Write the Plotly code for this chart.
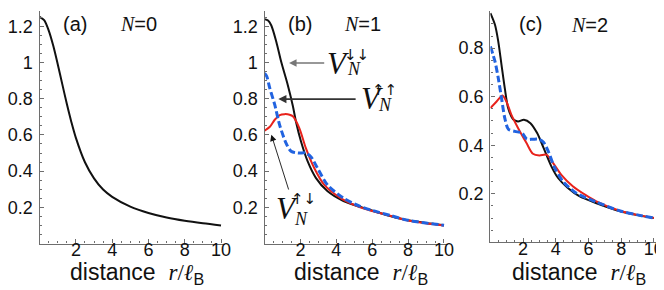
import plotly.graph_objects as go

# ---------------- data ----------------
r_a = [0, 0.25, 0.5, 0.75, 1, 1.25, 1.5, 1.75, 2, 2.5, 3, 3.5, 4, 5, 6, 7, 8, 9, 10]
v_a = [1.253, 1.234, 1.178, 1.094, 0.991, 0.881, 0.772, 0.672, 0.584, 0.449, 0.360, 0.298,
       0.258, 0.204, 0.169, 0.144, 0.126, 0.112, 0.100]

r_b_dd = [0, 0.2, 0.38, 0.66, 0.93, 1.3, 1.58, 1.76, 2.03, 2.4, 2.86, 3.5, 4.4, 5.9, 7, 8, 9, 10]
v_b_dd = [1.24, 1.232, 1.205, 1.114, 1.004, 0.875, 0.76, 0.67, 0.565, 0.455, 0.363, 0.29,
          0.235, 0.185, 0.152, 0.128, 0.113, 0.101]

r_b_uu = [0, 0.12, 0.29, 0.57, 0.84, 1.2, 1.48, 1.85, 2.3, 2.58, 2.95, 3.5, 4.4, 5.33, 6, 7, 8, 9, 10]
v_b_uu = [0.94, 0.925, 0.86, 0.767, 0.656, 0.555, 0.51, 0.50, 0.50, 0.48, 0.417, 0.325, 0.251,
          0.205, 0.183, 0.155, 0.128, 0.113, 0.101]

r_b_ud = [0, 0.3, 0.57, 0.85, 1.12, 1.4, 1.58, 1.94, 2.3, 2.77, 3.32, 4.24, 5.33, 6, 7, 8, 9, 10]
v_b_ud = [0.623, 0.645, 0.684, 0.71, 0.715, 0.712, 0.703, 0.638, 0.528, 0.417, 0.325, 0.251,
          0.2, 0.18, 0.153, 0.127, 0.112, 0.1]

r_c_dd = [0, 0.28, 0.48, 0.68, 0.88, 1.08, 1.39, 1.69, 2.05, 2.45, 2.86, 3.26, 3.73, 4.14,
          4.74, 5.44, 6.45, 8, 9, 10]
v_c_dd = [0.944, 0.896, 0.828, 0.731, 0.635, 0.555, 0.507, 0.498, 0.505, 0.491, 0.45, 0.388,
          0.313, 0.265, 0.224, 0.19, 0.162, 0.127, 0.112, 0.1]

r_c_uu = [0, 0.28, 0.48, 0.68, 0.88, 1.1, 1.5, 1.93, 2.23, 2.6, 3.0, 3.25, 3.54, 3.94, 4.44,
          5.24, 6.45, 8, 9, 10]
v_c_uu = [0.807, 0.745, 0.677, 0.594, 0.512, 0.466, 0.457, 0.45, 0.425, 0.425, 0.424, 0.412,
          0.375, 0.306, 0.251, 0.203, 0.167, 0.128, 0.113, 0.1]

r_c_ud = [0, 0.38, 0.74, 0.98, 1.28, 1.69, 2.2, 2.6, 3.0, 3.43, 3.83, 4.34, 5.04, 5.84, 6.45,
          8, 9, 10]
v_c_ud = [0.553, 0.58, 0.605, 0.58, 0.526, 0.471, 0.41, 0.365, 0.358, 0.361, 0.327, 0.278,
          0.231, 0.194, 0.17, 0.128, 0.113, 0.1]

x_ticks = [2, 4, 6, 8, 10]
x_ticktext = ["2", "4", "6", "8", "10"]
y_ticks_ab = [0.2, 0.4, 0.6, 0.8, 1.0, 1.2]
y_ticktext_ab = ["0.2", "0.4", "0.6", "0.8", "1", "1.2"]
y_ticks_c = [0.2, 0.4, 0.6, 0.8]
y_ticktext_c = ["0.2", "0.4", "0.6", "0.8"]

panel_labels = ["(a)", "(b)", "(c)"]
n_labels = ["0", "1", "2"]

# ---------------- styling ----------------
W, H = 664, 290
BLACK = "#111111"
RED = "#e8221b"
BLUE = "#2163e0"
SANS = "Liberation Sans, Arial, sans-serif"
SERIF = "Liberation Serif, Times New Roman, serif"


def px_x(p):
    return p / W


def px_y(p):
    return 1 - p / H


fig = go.Figure()

line_black = dict(color=BLACK, width=2, shape="spline", smoothing=0.8)
line_red = dict(color=RED, width=2, shape="spline", smoothing=0.8)
line_blue = dict(color=BLUE, width=3, dash="7px,3px", shape="spline", smoothing=0.8)

fig.add_trace(go.Scatter(x=r_a, y=v_a, mode="lines", line=line_black, xaxis="x", yaxis="y"))
fig.add_trace(go.Scatter(x=r_b_dd, y=v_b_dd, mode="lines", line=line_black, xaxis="x2", yaxis="y2"))
fig.add_trace(go.Scatter(x=r_b_ud, y=v_b_ud, mode="lines", line=line_red, xaxis="x2", yaxis="y2"))
fig.add_trace(go.Scatter(x=r_b_uu, y=v_b_uu, mode="lines", line=line_blue, xaxis="x2", yaxis="y2"))
fig.add_trace(go.Scatter(x=r_c_dd, y=v_c_dd, mode="lines", line=line_black, xaxis="x3", yaxis="y3"))
fig.add_trace(go.Scatter(x=r_c_ud, y=v_c_ud, mode="lines", line=line_red, xaxis="x3", yaxis="y3"))
fig.add_trace(go.Scatter(x=r_c_uu, y=v_c_uu, mode="lines", line=line_blue, xaxis="x3", yaxis="y3"))

# domains in pixels
panels = [
    dict(x0=30, x1=217.6, y0=235.5, y1=3, yr=[0, 1.285], yt=y_ticks_ab, ytt=y_ticktext_ab),
    dict(x0=258, x1=443.6, y0=235.5, y1=3, yr=[0, 1.285], yt=y_ticks_ab, ytt=y_ticktext_ab),
    dict(x0=487, x1=656, y0=234.3, y1=3, yr=[0, 0.953], yt=y_ticks_c, ytt=y_ticktext_c),
]

axis_color = "#6e6e6e"
layout = {}
for i, p in enumerate(panels):
    sfx = "" if i == 0 else str(i + 1)
    layout["xaxis" + sfx] = dict(
        domain=[px_x(p["x0"]), px_x(p["x1"])], range=[0, 10.2], anchor="y" + sfx,
        showline=True, linecolor=axis_color, linewidth=1.3, showgrid=False, zeroline=False,
        tickvals=x_ticks, ticktext=x_ticktext, ticks="inside", ticklen=4, tickcolor=axis_color,
        minor=dict(ticks="inside", ticklen=2, dtick=0.5, tickcolor=axis_color),
        tickfont=dict(family=SANS, size=18, color=BLACK), ticklabelstandoff=-10,
    )
    layout["yaxis" + sfx] = dict(
        domain=[px_y(p["y0"]), px_y(p["y1"])], range=p["yr"], anchor="x" + sfx,
        showline=True, linecolor=axis_color, linewidth=1.3, showgrid=False, zeroline=False,
        tickvals=p["yt"], ticktext=p["ytt"], ticks="inside", ticklen=4, tickcolor=axis_color,
        minor=dict(ticks="inside", ticklen=2, dtick=0.05, tickcolor=axis_color),
        tickfont=dict(family=SANS, size=18, color=BLACK), ticklabelstandoff=2,
    )

annotations = []
# panel labels and N labels
label_pos = [(66, 16), (294, 16), (528, 16)]
n_pos = [(130, 16), (357, 16), (587, 17)]
for i in range(3):
    annotations.append(dict(x=px_x(label_pos[i][0]), y=px_y(label_pos[i][1]), xref="paper", yref="paper",
                            xanchor="center", yanchor="middle",
                            text=panel_labels[i], showarrow=False,
                            font=dict(family=SANS, size=20, color=BLACK)))
    annotations.append(dict(x=px_x(n_pos[i][0]), y=px_y(n_pos[i][1]), xref="paper", yref="paper",
                            xanchor="center", yanchor="middle",
                            text="<span style='font-family:\"Liberation Serif\"'><i>N</i></span>=" + n_labels[i],
                            showarrow=False, font=dict(family=SANS, size=20, color=BLACK)))
    # x-axis title
    cx = (panels[i]["x0"] + panels[i]["x1"]) / 2 + 5
    annotations.append(dict(x=px_x(cx), y=px_y(265), xref="paper", yref="paper",
                            xanchor="center", yanchor="middle",
                            text="distance  <span style='font-family:\"Liberation Serif\"'><i>r</i>/<i>ℓ</i></span><sub>B</sub>",
                            showarrow=False, font=dict(family=SANS, size=23, color=BLACK)))

# arrows in panel (b), in data coordinates
arrows = [
    dict(x=1.37, y=0.997, ax=3.41, ay=0.997, color="#777777", w=1.5, s=1.0),
    dict(x=0.77, y=0.798, ax=5.16, ay=0.798, color="#333333", w=1.8, s=0.9),
    dict(x=0.38, y=0.601, ax=1.37, ay=0.29, color="#111111", w=0.9, s=1.4),
]
for a in arrows:
    annotations.append(dict(x=a["x"], y=a["y"], ax=a["ax"], ay=a["ay"], xref="x2", yref="y2",
                            axref="x2", ayref="y2", showarrow=True, arrowhead=2, arrowsize=a["s"],
                            arrowwidth=a["w"], arrowcolor=a["color"], text=""))

# V labels: (V pos, superscript text, sup pos, N pos)
v_labels = [
    ((4.12, 0.997), "↓↓", (5.11, 1.04), (5.0, 0.962)),
    ((5.99, 0.799), "↑↑", (6.70, 0.848), (6.70, 0.765)),
    ((1.26, 0.191), "↑↓", (2.2, 0.246), (2.03, 0.135)),
]
for vp, sup, sp, npos in v_labels:
    annotations.append(dict(x=vp[0], y=vp[1], xref="x2", yref="y2", text="<i>V</i>", showarrow=False,
                            xanchor="center", yanchor="middle",
                            font=dict(family=SERIF, size=31, color=BLACK)))
    annotations.append(dict(x=sp[0], y=sp[1], xref="x2", yref="y2", text=sup, showarrow=False,
                            xanchor="center", yanchor="middle",
                            font=dict(family="DejaVu Sans", size=15, color=BLACK)))
    annotations.append(dict(x=npos[0], y=npos[1], xref="x2", yref="y2", text="<i>N</i>", showarrow=False,
                            xanchor="center", yanchor="middle",
                            font=dict(family=SERIF, size=18, color=BLACK)))

fig.update_layout(
    width=W, height=H, margin=dict(l=0, r=0, t=0, b=0),
    paper_bgcolor="white", plot_bgcolor="white", showlegend=False,
    annotations=annotations, **layout,
)

fig.write_html("out.html")
